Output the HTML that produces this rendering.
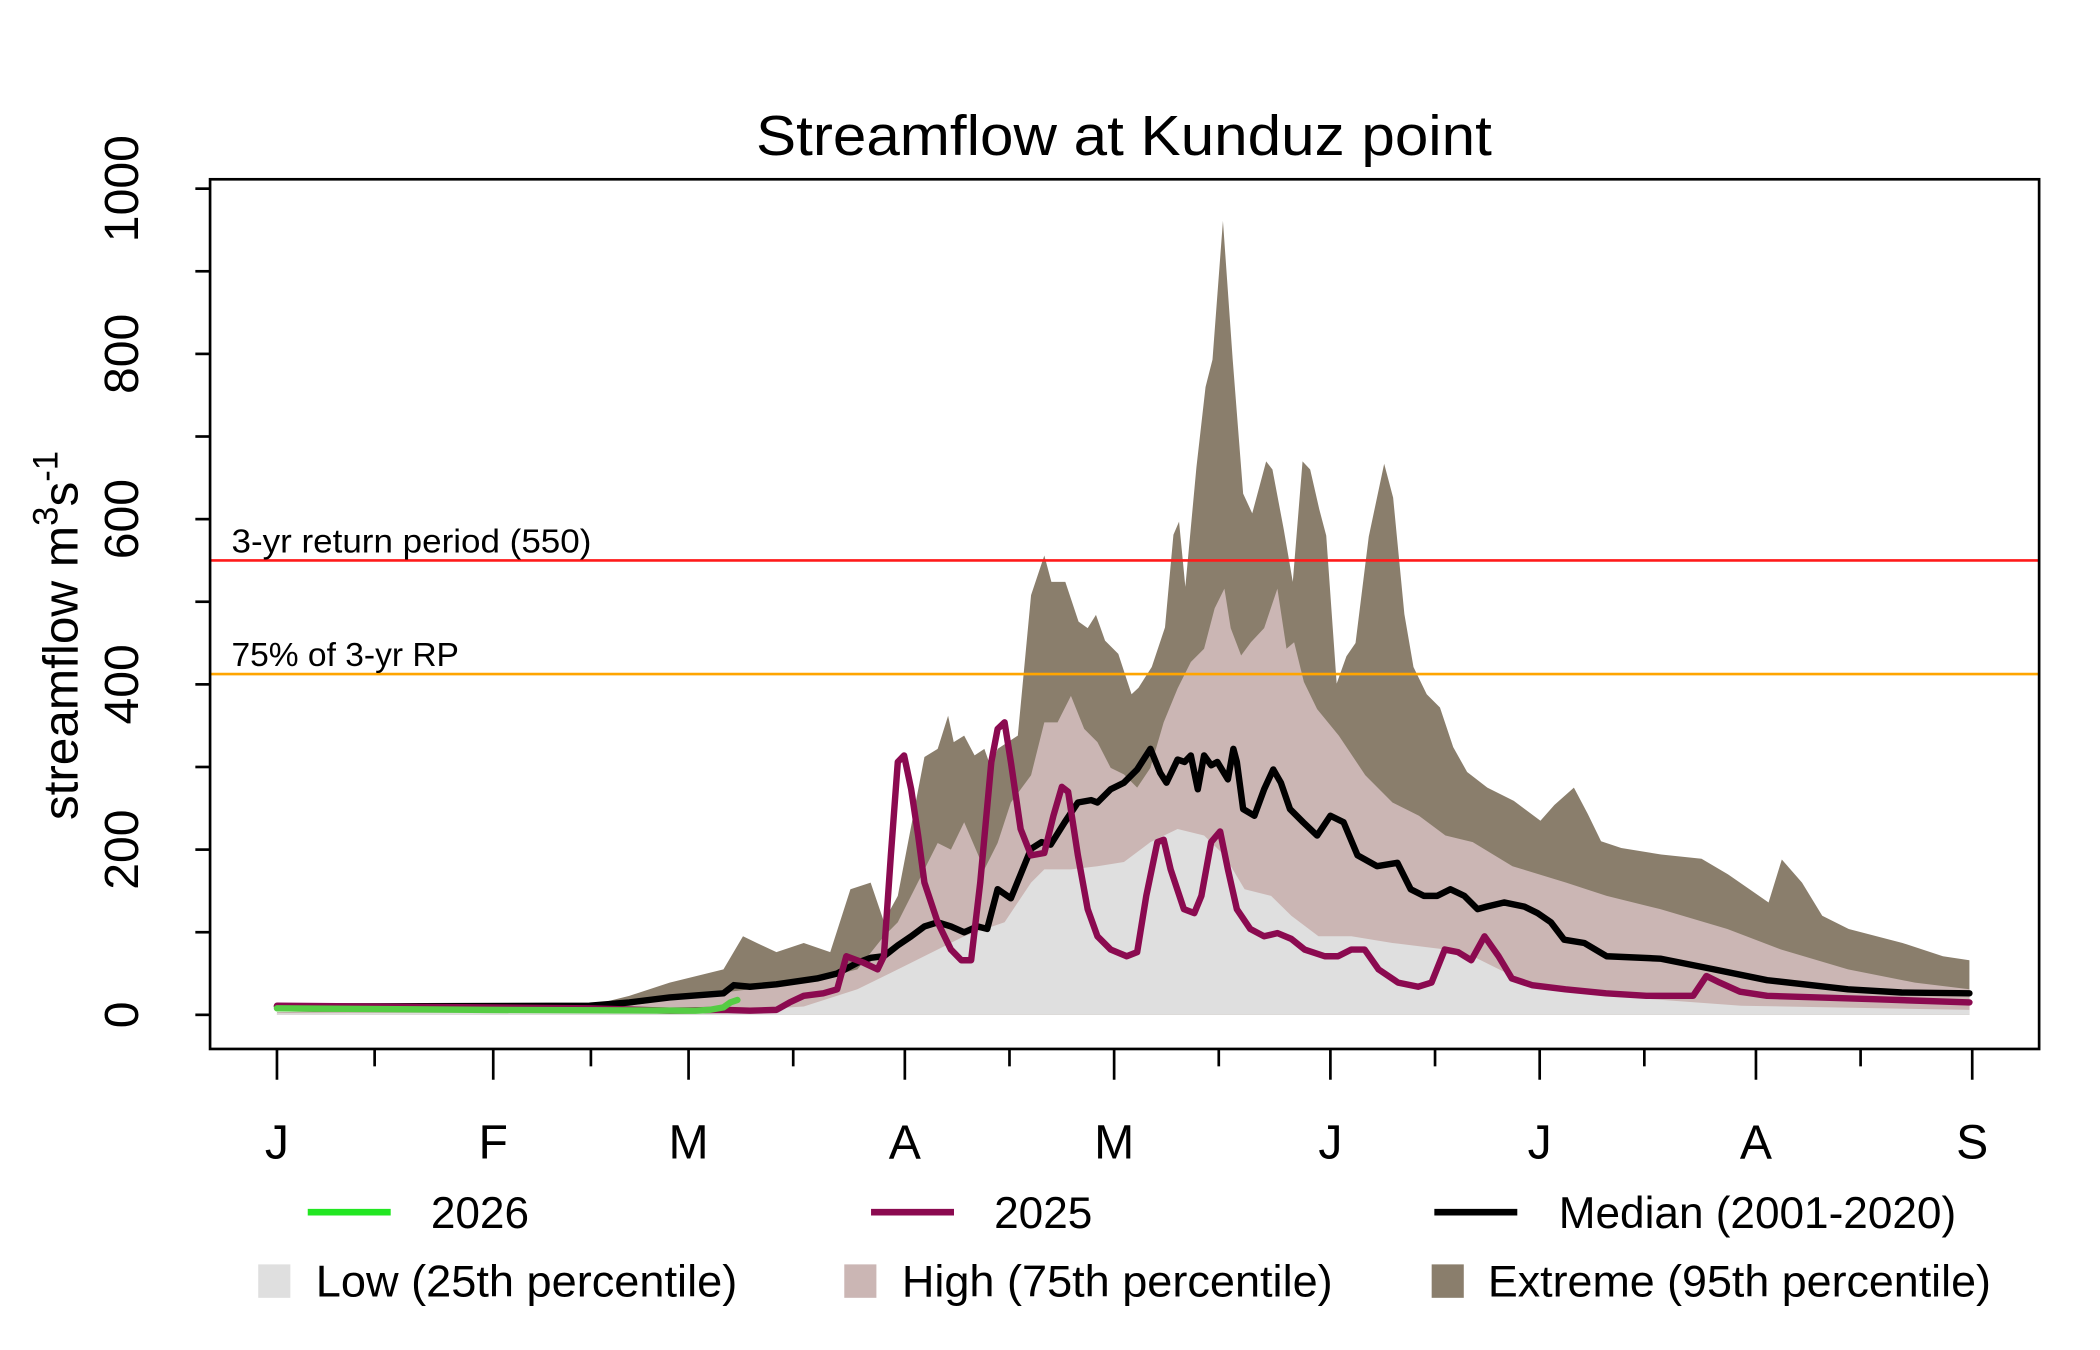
<!DOCTYPE html>
<html><head><meta charset="utf-8"><style>
html,body{margin:0;padding:0;background:#fff;}
svg{display:block;font-family:"Liberation Sans",sans-serif;}
</style></head><body>
<svg id="chart" width="2100" height="1350" viewBox="0 0 1569.5 1009" preserveAspectRatio="none" xmlns="http://www.w3.org/2000/svg">
<rect width="1569.5" height="1009" fill="#fff"/>
<text x="840" y="116" font-size="42" text-anchor="middle" textLength="550" lengthAdjust="spacingAndGlyphs">Streamflow at Kunduz point</text>
<g id="bands"></g>
<g id="lines"></g>
<g id="axes"></g>
<rect x="157" y="134" width="1367" height="650" fill="none" stroke="#000" stroke-width="2"/>
<text transform="translate(58,475) rotate(-90)" font-size="37" text-anchor="middle">streamflow m<tspan font-size="26" dy="-15">3</tspan><tspan dy="15">s</tspan><tspan font-size="26" dy="-15">-1</tspan></text>
<g font-size="33">
<line x1="230" y1="906" x2="292" y2="906" stroke="#22e622" stroke-width="5"/>
<text x="322" y="918">2026</text>
<line x1="651" y1="906" x2="713" y2="906" stroke="#8b0a50" stroke-width="5"/>
<text x="743" y="918">2025</text>
<line x1="1072" y1="906" x2="1134" y2="906" stroke="#000" stroke-width="5"/>
<text x="1165" y="918" textLength="297" lengthAdjust="spacingAndGlyphs">Median (2001-2020)</text>
<rect x="193" y="945" width="24" height="25" fill="#dfdfdf"/>
<text x="236" y="969" textLength="315" lengthAdjust="spacingAndGlyphs">Low (25th percentile)</text>
<rect x="631" y="945" width="24" height="25" fill="#cbb6b4"/>
<text x="674" y="969" textLength="322" lengthAdjust="spacingAndGlyphs">High (75th percentile)</text>
<rect x="1070" y="945" width="24" height="25" fill="#8a7e6c"/>
<text x="1112" y="969" textLength="376" lengthAdjust="spacingAndGlyphs">Extreme (95th percentile)</text>
</g>
</svg>
<script>
const monthLabels = ["J","F","M","A","M","J","J","A","S"];
const monthDays = [0,31,59,90,120,151,181,212,243];
const midMonthDays = [14,45,74,105,135,166,196,227];
const yTicks = [0,200,400,600,800,1000];
const rpValue = 550;
const rp75Value = 412.5;
const extremeDays = [0,44.8,50.5,56.3,64,66.8,68.8,71.6,75.5,79.3,82.2,85.1,87,89,92.8,94.7,96.2,97,98.5,100,101.4,102.4,103.3,106.2,108.1,110,111,113,114.9,116.2,117.4,118.7,120.6,122.5,123.5,125.4,127.3,128.5,129.3,130.2,131.8,133.1,134.1,135.6,137,138.5,139.8,141.8,142.7,144.3,145.6,147,148.1,149.4,150.4,151.9,153.3,154.6,156.5,158.7,160,161.6,162.9,164.8,166.7,168.6,170.6,173.5,177.3,181.1,183.1,185.9,187.9,189.8,192.7,198.4,204.2,208,213.8,215.7,218.6,221.5,225.3,233,238.8,242.6];
const extremeVals = [3,11,23,39,55,95,87,76,87,76,152,160,113,144,312,322,362,330,338,314,322,298,322,338,508,556,524,524,476,468,484,453,437,388,396,421,469,581,597,518,663,760,793,961,793,631,607,670,660,588,524,670,660,612,580,401,434,450,579,667,626,485,421,388,372,324,294,275,259,235,254,275,243,210,202,194,189,170,136,188,160,120,104,87,71,66];
const highDays = [0,46.1,56.3,64,67.8,75.5,83.2,87,89,92.8,94.7,96.6,98.5,101.4,103.3,105.2,108.1,110,111.9,113.8,115.7,117.6,119.5,121.4,123.3,125.2,127.1,129.1,131,132.9,134.4,135.8,136.7,138.2,139.6,141.5,143.4,144.7,145.8,147.2,149.1,152.2,156,159.9,163.7,167.5,171.4,177.1,184.8,190.6,198.3,207.9,215.6,225.2,234.8,242.6];
const highVals = [3,6,18,27,31,39,55,95,112,176,208,200,233,176,208,257,290,354,354,386,346,330,299,291,275,299,354,395,427,443,492,516,468,435,451,468,516,443,451,403,370,338,290,257,241,217,209,180,160,144,128,104,79,55,39,31];
const lowDays = [0,56.3,67.8,75.5,83.2,90.9,94.7,98.5,104.3,108.1,110,113.8,117.6,121.4,125.2,129.1,132.9,135.8,138.7,142.5,145.4,149.3,154,159.9,167.5,171.4,179,190.6,209.9,242.6];
const lowVals = [2,3,6,10,31,63,79,95,112,160,176,176,180,185,209,225,217,193,152,144,120,95,95,87,79,71,39,23,11,6];
const medianDays = [0,44.8,50.5,56.3,64,65.5,67.8,71.6,77.4,80.3,83.2,85.1,87,89,90.9,92.8,94.7,96.6,98.5,100.4,101.8,103.3,105.2,108.1,109.6,110.9,112.9,114.8,116.7,117.6,119.5,121.4,123.3,125.2,126.6,127.5,129.1,130.1,131,132,132.9,133.9,134.8,136.3,137.1,137.6,138.5,140.1,141.5,142.8,143.9,145.2,147.1,149.1,151,152.9,154.9,157.7,160.6,162.5,164.4,166.3,168.2,170.2,172.1,173.4,175.9,178.8,180.7,182.6,184.5,187.4,190.6,198.3,206,213.6,225.2,232.9,242.6];
const medianVals = [10,11,15,21,26,36,34,37,44,50,63,69,71,84,95,107,112,107,100,107,104,152,141,201,209,206,233,257,260,257,273,281,297,322,293,281,309,306,314,273,314,302,306,285,322,306,249,241,273,297,281,249,233,217,241,233,193,180,184,152,144,144,152,144,128,131,136,131,123,112,91,87,71,68,55,42,31,27,26];
const y2025Days = [0,44.8,56.3,64,67.8,71.6,73.5,75.5,78.3,80.3,81.6,84.1,86.1,87,88,89,89.9,90.9,91.9,92.8,94.7,96.6,98.1,99.5,100.8,102.4,103.3,104.3,105.2,106.6,108.1,110,111.3,112.5,113.4,114.8,116.2,117.6,119.5,121.8,123.3,124.6,126.2,127.1,128.1,130,131.5,132.5,133.9,135.2,136.3,137.6,139.5,141.5,143.4,145.4,147.3,150.2,152.1,154,155.9,157.9,160.7,163.6,165.5,167.4,169.3,171.2,173.1,175.1,177,179.9,184.7,190.5,196.3,203,204.9,206.8,209.7,213.6,228.9,242.6];
const y2025Vals = [11,8,5,6,5,6,15,23,26,31,71,63,55,71,193,306,314,273,217,160,112,79,66,66,160,306,346,354,306,225,193,196,241,276,270,193,128,95,79,71,76,144,209,212,176,128,123,144,209,222,176,128,104,95,99,92,79,71,71,79,79,55,39,34,39,79,76,66,95,71,44,36,31,26,23,23,47,39,28,23,19,15];
const y2026Days = [0,30,60,62,64,65,66];
const y2026Vals = [8,6,5,6,9,15,18];

const NS = "http://www.w3.org/2000/svg";
function xScale(d){ return 207 + d * (1267/243); }
function yScale(v){ return 758.5 - v * 0.6175; }
function mk(tag, attrs, parent){ const e=document.createElementNS(NS,tag); for(const k in attrs) e.setAttribute(k,attrs[k]); parent.appendChild(e); return e; }

const bands = document.getElementById('bands');
function area(days, vals, color, name){
  let d = "M" + xScale(days[0]) + "," + yScale(0);
  for(let i=0;i<days.length;i++) d += " L" + xScale(days[i]).toFixed(1) + "," + yScale(vals[i]).toFixed(1);
  d += " L" + xScale(days[days.length-1]) + "," + yScale(0) + " Z";
  const p = mk('path', {d:d, fill:color}, bands);
  
  
}
area(extremeDays, extremeVals, "#8a7e6c", "extreme-band");
area(highDays, highVals, "#cbb6b4", "high-band");
area(lowDays, lowVals, "#dfdfdf", "low-band");

const lines = document.getElementById('lines');
function hline(v, color, name){
  const l = mk('line', {x1:157, x2:1524, y1:yScale(v), y2:yScale(v), stroke:color, "stroke-width":2}, lines);
  
  
}
hline(rpValue, "#ff1a1a", "return-period-line");
hline(rp75Value, "#ffa500", "rp75-line");
let t1 = mk('text', {x:173, y:yScale(rpValue)-6, "font-size":25, textLength:269, lengthAdjust:"spacingAndGlyphs"}, lines);
t1.textContent = "3-yr return period (550)";


let t2 = mk('text', {x:173, y:yScale(rp75Value)-6, "font-size":25, textLength:170, lengthAdjust:"spacingAndGlyphs"}, lines);
t2.textContent = "75% of 3-yr RP";



function poly(days, vals, color, name){
  const pts = days.map((d,i)=> xScale(d).toFixed(1)+","+yScale(vals[i]).toFixed(1)).join(" ");
  const p = mk('polyline', {points:pts, fill:"none", stroke:color, "stroke-width":4.8, "stroke-linejoin":"round", "stroke-linecap":"round"}, lines);
  
  
}
poly(medianDays, medianVals, "#000", "median-line");
poly(y2025Days, y2025Vals, "#8b0a50", "line-2025");
poly(y2026Days, y2026Vals, "#55cc44", "line-2026");

const axes = document.getElementById('axes');
yTicks.forEach(v=>{
  const y = yScale(v);
  const tl = mk('text', {transform:"translate(103,"+y+") rotate(-90)", "font-size":36, "text-anchor":"middle"}, axes);
  tl.textContent = v;
  
  
});
for(let v=0; v<=1000; v+=100){
  const t = mk('line', {x1:146, x2:157, y1:yScale(v), y2:yScale(v), stroke:"#000", "stroke-width":2}, axes);
  
  
}
monthDays.forEach((d,i)=>{
  const x = xScale(d);
  const t = mk('line', {x1:x, x2:x, y1:784, y2:807, stroke:"#000", "stroke-width":2}, axes);
  
  
  const lb = mk('text', {x:x, y:866, "font-size":36, "text-anchor":"middle"}, axes);
  lb.textContent = monthLabels[i];
  
  
});
midMonthDays.forEach(d=>{
  const x = xScale(d);
  const t = mk('line', {x1:x, x2:x, y1:784, y2:797, stroke:"#000", "stroke-width":2}, axes);
  
  
});
</script>
</body></html>
